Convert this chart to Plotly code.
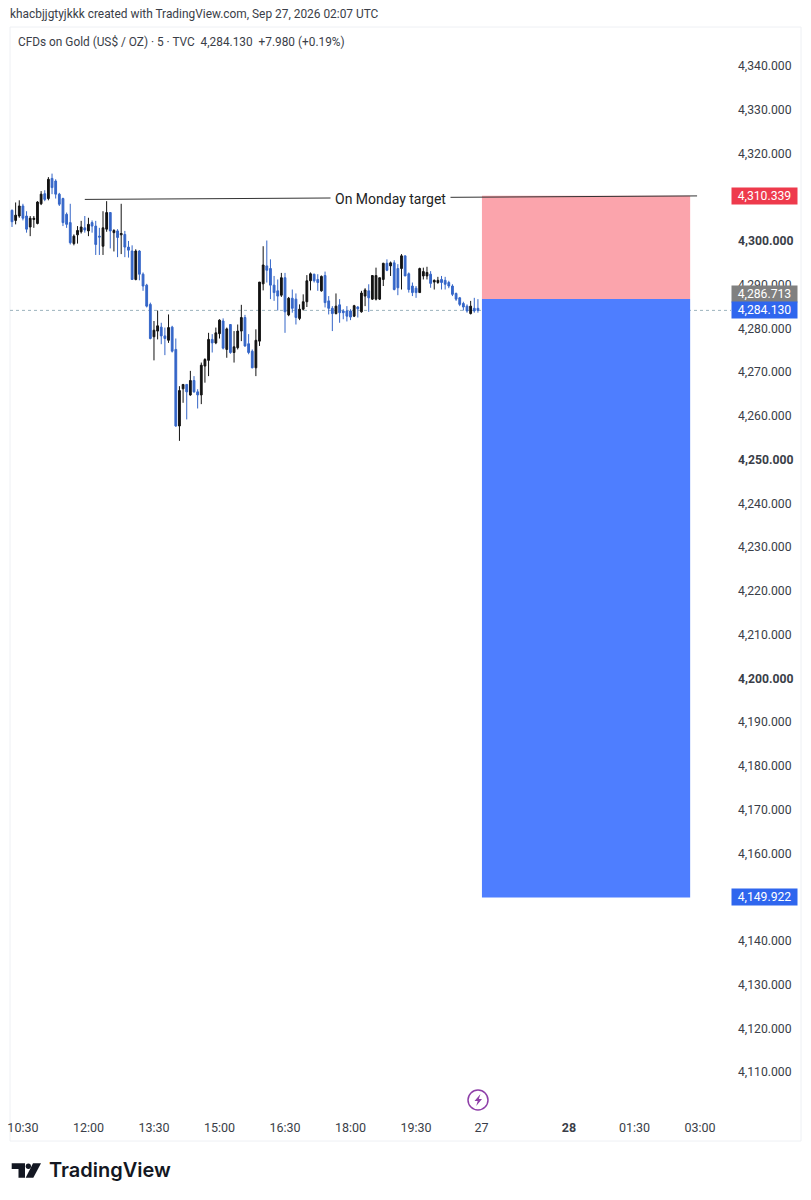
#!/usr/bin/env python3
"""
Gold 5 minute chart with a short position drawn on it, TradingView style
"""

import plotly.graph_objects as go

# Candles, oldest first
opens = [4307.0, 4304.7, 4305.7, 4308.0, 4305.7, 4303.2, 4304.9, 4304.0, 4308.5, 4310.8,
         4309.7, 4314.3, 4313.7, 4310.7, 4309.7, 4306.1, 4304.2, 4299.4, 4301.4, 4302.1,
         4303.0, 4302.3, 4304.2, 4303.4, 4301.1, 4298.8, 4302.7, 4306.5, 4301.9, 4302.3,
         4301.4, 4301.5, 4298.6, 4297.7, 4291.2, 4297.7, 4292.4, 4289.9, 4285.5, 4278.1,
         4279.4, 4280.3, 4278.3, 4277.3, 4280.3, 4275.2, 4257.7, 4266.2, 4267.2, 4264.8,
         4268.1, 4265.5, 4264.8, 4271.4, 4272.7, 4277.5, 4276.7, 4278.8, 4281.7, 4275.2,
         4280.9, 4274.5, 4275.6, 4279.4, 4282.5, 4276.5, 4274.8, 4271.0, 4277.1, 4290.2,
         4294.3, 4293.7, 4289.9, 4288.6, 4287.6, 4291.6, 4283.1, 4286.9, 4286.7, 4282.3,
         4284.4, 4286.1, 4290.9, 4292.4, 4291.2, 4288.6, 4292.1, 4286.3, 4284.6, 4283.4,
         4285.4, 4284.0, 4284.0, 4284.0, 4282.8, 4284.9, 4283.8, 4287.4, 4288.6, 4286.7,
         4286.7, 4286.7, 4291.2, 4294.9, 4294.3, 4295.0, 4293.7, 4293.7, 4296.6, 4292.5,
         4289.7, 4289.2, 4288.2, 4292.0, 4292.0, 4292.4, 4290.6, 4290.5, 4291.2, 4291.0,
         4290.5, 4289.7, 4288.0, 4287.0, 4285.7, 4285.1, 4283.4, 4284.6, 4284.6]
highs = [4307.2, 4308.8, 4309.3, 4308.5, 4306.8, 4305.7, 4305.7, 4309.1, 4311.4, 4311.6,
         4314.6, 4315.4, 4314.1, 4311.0, 4309.9, 4306.5, 4308.5, 4301.5, 4303.4, 4304.6,
         4305.7, 4305.3, 4304.7, 4304.6, 4303.0, 4306.8, 4309.1, 4306.5, 4302.7, 4302.7,
         4308.5, 4302.3, 4300.0, 4299.0, 4298.1, 4297.9, 4292.8, 4290.2, 4285.9, 4281.7,
         4284.1, 4281.3, 4280.2, 4283.2, 4280.6, 4277.7, 4266.8, 4267.2, 4267.2, 4270.3,
         4269.1, 4266.1, 4272.2, 4273.2, 4279.0, 4278.7, 4280.2, 4282.1, 4282.3, 4280.2,
         4280.9, 4279.4, 4280.9, 4285.4, 4283.1, 4278.7, 4275.2, 4279.8, 4290.6, 4298.8,
         4300.1, 4295.8, 4292.0, 4291.2, 4292.7, 4292.7, 4287.2, 4288.9, 4288.0, 4285.5,
         4287.8, 4292.2, 4292.8, 4292.5, 4292.4, 4292.1, 4293.0, 4287.4, 4285.1, 4288.0,
         4286.7, 4284.4, 4285.1, 4284.4, 4285.4, 4285.1, 4288.6, 4289.2, 4290.1, 4292.2,
         4293.9, 4291.6, 4295.0, 4295.8, 4295.3, 4295.6, 4294.7, 4297.0, 4296.6, 4292.8,
         4290.5, 4289.7, 4293.9, 4293.9, 4294.1, 4293.1, 4291.2, 4291.8, 4292.0, 4291.8,
         4290.9, 4290.1, 4288.2, 4287.2, 4286.1, 4285.5, 4286.3, 4287.0, 4286.7]
lows = [4303.2, 4303.8, 4305.3, 4304.7, 4301.9, 4301.1, 4303.0, 4303.8, 4308.2, 4309.1,
        4309.3, 4310.7, 4309.7, 4308.0, 4303.4, 4303.0, 4299.2, 4299.0, 4299.4, 4301.7,
        4301.9, 4301.1, 4301.9, 4296.8, 4296.8, 4296.8, 4302.1, 4298.3, 4297.6, 4296.3,
        4297.0, 4296.3, 4296.2, 4291.1, 4291.0, 4291.0, 4288.6, 4284.8, 4277.5, 4272.7,
        4277.5, 4276.4, 4273.9, 4276.7, 4274.5, 4257.5, 4254.3, 4263.0, 4259.2, 4264.6,
        4265.3, 4261.7, 4262.7, 4267.6, 4269.1, 4274.5, 4276.4, 4277.7, 4275.2, 4273.3,
        4274.2, 4272.2, 4275.2, 4277.1, 4275.8, 4274.1, 4270.9, 4269.1, 4276.0, 4288.7,
        4290.5, 4286.7, 4286.3, 4284.1, 4287.2, 4279.0, 4282.8, 4283.6, 4280.9, 4281.9,
        4284.1, 4284.9, 4288.7, 4290.5, 4288.6, 4288.4, 4284.8, 4283.2, 4279.4, 4283.2,
        4281.3, 4282.1, 4281.6, 4281.9, 4282.6, 4282.5, 4283.6, 4285.1, 4283.8, 4286.5,
        4286.4, 4286.5, 4289.7, 4293.1, 4292.0, 4288.7, 4287.6, 4288.9, 4292.0, 4288.2,
        4287.4, 4287.0, 4288.2, 4291.2, 4291.2, 4289.3, 4288.9, 4290.2, 4288.9, 4288.9,
        4289.2, 4287.4, 4286.3, 4285.1, 4284.1, 4283.6, 4283.2, 4283.6, 4283.6]
closes = [4304.4, 4305.9, 4308.0, 4305.2, 4302.7, 4305.2, 4305.2, 4308.9, 4310.7, 4309.5,
          4314.1, 4312.2, 4310.7, 4308.4, 4304.2, 4303.8, 4299.6, 4301.1, 4302.4, 4303.2,
          4302.5, 4303.8, 4303.4, 4299.2, 4300.9, 4303.0, 4306.5, 4302.3, 4302.4, 4300.8,
          4301.7, 4298.6, 4297.9, 4291.2, 4297.7, 4292.4, 4289.7, 4285.1, 4277.7, 4279.6,
          4280.6, 4278.3, 4277.7, 4280.2, 4274.8, 4257.7, 4265.8, 4267.2, 4265.5, 4268.1,
          4265.5, 4264.8, 4271.6, 4272.9, 4277.5, 4276.7, 4279.0, 4281.9, 4275.5, 4279.9,
          4274.5, 4275.8, 4279.4, 4282.5, 4276.0, 4274.5, 4271.0, 4277.3, 4290.6, 4294.5,
          4293.3, 4289.9, 4288.2, 4287.4, 4291.6, 4283.8, 4286.9, 4284.6, 4282.5, 4284.4,
          4286.1, 4290.9, 4292.5, 4290.9, 4290.5, 4291.9, 4285.9, 4284.6, 4283.4, 4285.1,
          4283.6, 4283.6, 4282.8, 4282.6, 4285.2, 4284.5, 4288.1, 4288.8, 4287.0, 4292.1,
          4292.1, 4291.6, 4294.9, 4293.3, 4295.0, 4288.9, 4289.3, 4296.6, 4292.0, 4288.9,
          4288.2, 4288.2, 4293.7, 4293.0, 4292.8, 4290.3, 4291.0, 4291.0, 4290.5, 4290.1,
          4289.7, 4287.8, 4286.7, 4285.5, 4284.9, 4284.0, 4285.1, 4284.0, 4284.13]

time_tick_bars = [3, 21, 39, 57, 75, 93, 111, 129, 153, 171, 189]
time_tick_labels = ["10:30", "12:00", "13:30", "15:00", "16:30", "18:00", "19:30", "27",
                    "<b>28</b>", "01:30", "03:00"]
# 4150 and 4310 sit behind the price tags on the original, so they are left out
price_ticks = [4110, 4120, 4130, 4140, 4160, 4170, 4180, 4190, 4200, 4210, 4220,
               4230, 4240, 4250, 4260, 4270, 4280, 4290, 4300, 4320, 4330, 4340]
bold_prices = [4200, 4250, 4300]

target_price = 4310.339
entry_price = 4286.713
stop_price = 4149.922
last_price = 4284.130

position_start = 129.1
position_end = 186.3
line_start = (20, 4309.5)
line_end = (188.2, 4310.3)

# where the plot area sits on the page, in pixels
PLOT_L, PLOT_R, PLOT_T, PLOT_B = 10, 722, 28, 1114
X_RANGE = [-0.55, 195.05]
Y_RANGE = [4100.4, 4348.69]

FONT = "Roboto"
TEXT = "#3a3e48"


def px(x):
    return (x - PLOT_L) / (PLOT_R - PLOT_L)


def py(y):
    return (PLOT_B - y) / (PLOT_B - PLOT_T)


def page_text(x, y, text, size, color=TEXT, family=FONT, weight="normal"):
    return dict(xref="paper", yref="paper", x=px(x), y=py(y), text=text, showarrow=False,
                xanchor="left", yanchor="middle",
                font=dict(family=family, size=size, color=color, weight=weight))


def price_tag(price, color, shift=0):
    return dict(xref="paper", yref="y", x=px(731), y=price, yshift=shift, text=f"{price:,.3f}",
                showarrow=False, xanchor="left", yanchor="middle", width=65, height=16, align="center",
                bgcolor=color, borderpad=0, font=dict(family=FONT, size=12.2, color="white"))


bars = list(range(len(closes)))

fig = go.Figure()

fig.add_trace(
    go.Candlestick(
        x=bars, open=opens, high=highs, low=lows, close=closes,
        increasing=dict(line=dict(color="#131313", width=1), fillcolor="#131313"),
        decreasing=dict(line=dict(color="#3566C8", width=1), fillcolor="#3566C8"),
        whiskerwidth=0,
    )
)

shapes = [
    # chart frame
    dict(type="rect", xref="paper", yref="paper", x0=px(10), x1=px(801), y0=py(1141), y1=py(27),
         line=dict(color="#eef0f4", width=1), layer="below"),
    # last price line
    dict(type="line", xref="paper", yref="y", x0=0, x1=px(731), y0=last_price, y1=last_price,
         line=dict(color="#9db3bd", width=1, dash="dot"), layer="below"),
    # position box
    dict(type="rect", x0=position_start, x1=position_end, y0=entry_price, y1=target_price,
         fillcolor="#FBA4AC", line=dict(width=0), layer="above"),
    dict(type="rect", x0=position_start, x1=position_end, y0=stop_price, y1=entry_price,
         fillcolor="#4E7EFF", line=dict(width=0), layer="above"),
    # target line
    dict(type="line", x0=line_start[0], y0=line_start[1], x1=line_end[0], y1=line_end[1],
         line=dict(color="#333333", width=1), layer="above"),
    # news marker
    dict(type="circle", xref="paper", yref="paper", x0=px(468), x1=px(488), y0=py(1110), y1=py(1090),
         line=dict(color="#8E3FA8", width=1.5), fillcolor="white"),
    dict(type="path", xref="paper", yref="paper", fillcolor="#8E3FA8", line=dict(width=0),
         path=f"M {px(480.5)} {py(1094)} L {px(474.5)} {py(1101)} L {px(477.7)} {py(1101)} "
              f"L {px(476.2)} {py(1106)} L {px(482)} {py(1099)} L {px(478.8)} {py(1099)} Z"),
    # TradingView logo
    dict(type="path", xref="paper", yref="paper", fillcolor="#131722", line=dict(width=0),
         path=f"M {px(11.7)} {py(1163.3)} L {px(25)} {py(1163.3)} L {px(25)} {py(1177.7)} "
              f"L {px(18.5)} {py(1177.7)} L {px(18.5)} {py(1169)} L {px(11.7)} {py(1169)} Z"),
    dict(type="circle", xref="paper", yref="paper", fillcolor="#131722", line=dict(width=0),
         x0=px(25.7), x1=px(31), y0=py(1169), y1=py(1163.5)),
    dict(type="path", xref="paper", yref="paper", fillcolor="#131722", line=dict(width=0),
         path=f"M {px(33)} {py(1163.3)} L {px(41)} {py(1163.3)} L {px(33.3)} {py(1177.7)} "
              f"L {px(25.7)} {py(1177.7)} Z"),
]

annotations = [
    page_text(8, 14, "khacbjjgtyjkkk created with TradingView.com, Sep 27, 2026 02:07 UTC", 11.9),
    page_text(16, 42, "CFDs on Gold (US$ / OZ) · 5 · TVC &nbsp;4,284.130 &nbsp;+7.980 (+0.19%)", 11.85),
    page_text(46.5, 1170.5, "TradingView", 20, color="#131722", family="Inter", weight=600),
    dict(x=104.1, y=4309.7, text="On Monday target", showarrow=False, bgcolor="white", borderpad=4,
         font=dict(family=FONT, size=14, color="#222222")),
    price_tag(target_price, "#EE3A4C"),
    price_tag(entry_price, "#808080", shift=5),
    price_tag(last_price, "#2F66EE"),
    price_tag(stop_price, "#2F66EE"),
]

fig.update_layout(
    width=811,
    height=1200,
    margin=dict(l=PLOT_L, r=811 - PLOT_R, t=PLOT_T, b=1200 - PLOT_B, pad=0, autoexpand=False),
    paper_bgcolor="white",
    plot_bgcolor="white",
    showlegend=False,
    shapes=shapes,
    annotations=annotations,
    xaxis=dict(
        range=X_RANGE, rangeslider=dict(visible=False), showgrid=False, zeroline=False,
        tickmode="array", tickvals=time_tick_bars, ticktext=time_tick_labels, ticks="",
        tickangle=0, showline=False, ticklabelstandoff=4, automargin=False,
        tickfont=dict(family=FONT, size=12.5, color=TEXT),
    ),
    yaxis=dict(
        range=Y_RANGE, side="right", showgrid=False, zeroline=False, showline=False,
        tickmode="array", tickvals=price_ticks,
        ticktext=[f"<b>{p:,.3f}</b>" if p in bold_prices else f"{p:,.3f}" for p in price_ticks],
        ticks="", ticklabelstandoff=15, automargin=False,
        tickfont=dict(family=FONT, size=12.2, color=TEXT),
    ),
)

fig.write_html(
    "out.html",
    config=dict(displayModeBar=False),
    post_script="document.body.style.margin='0';document.body.style.overflow='hidden';",
)
